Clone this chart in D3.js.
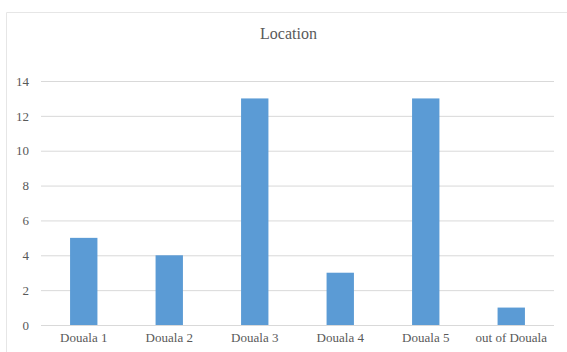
<!DOCTYPE html>
<html><head><meta charset="utf-8">
<script src="https://cdn.jsdelivr.net/npm/d3@7"></script>
<style>html,body{margin:0;padding:0;background:#fff;}svg{display:block;}
svg text{font-family:"Liberation Serif","Times New Roman",Times,"DejaVu Serif",serif !important;}</style>
</head><body>
<svg id="c" width="567" height="352"></svg>
<script>
const categories = ["Douala 1","Douala 2","Douala 3","Douala 4","Douala 5","out of Douala"];
const values = [5,4,13,3,13,1];
const yTicks = [0,2,4,6,8,10,12,14];
const title = "Location";

const svg = d3.select("#c");
const textColor = "#595959";

// frame
svg.append("path").attr("d","M6.5,352 V12.5 H567").attr("fill","none").attr("stroke","#e6e6e6").attr("stroke-width",1);

const x = d3.scaleBand().domain(categories).range([41,554]).paddingInner(0.68).paddingOuter(0.34);
const y = d3.scaleLinear().domain([0,14]).range([325,81]);

svg.append("text").attr("x",288.5).attr("y",39).attr("text-anchor","middle")
  .attr("font-size",16).attr("fill",textColor).text(title);

const yAxis = svg.append("g").attr("transform","translate(41,0)")
  .call(d3.axisLeft(y).tickValues(yTicks).tickSize(-(554-41)).tickPadding(12));
yAxis.attr("font-family",null);
yAxis.select(".domain").remove();
yAxis.selectAll(".tick line").attr("stroke","#d9d9d9").attr("stroke-width",1);
yAxis.selectAll(".tick text").attr("font-size",13).attr("fill",textColor);

svg.append("g").selectAll("rect").data(values).join("rect")
  .attr("x",(d,i)=>x(categories[i])).attr("width",x.bandwidth())
  .attr("y",d=>y(d)).attr("height",d=>y(0)-y(d)).attr("fill","#5B9BD5");

const xAxis = svg.append("g").attr("transform","translate(0,325)")
  .call(d3.axisBottom(x).tickSize(0).tickPadding(8));
xAxis.attr("font-family",null);
xAxis.select(".domain").remove();
xAxis.selectAll(".tick text").attr("font-size",13).attr("fill",textColor);
</script>
</body></html>
